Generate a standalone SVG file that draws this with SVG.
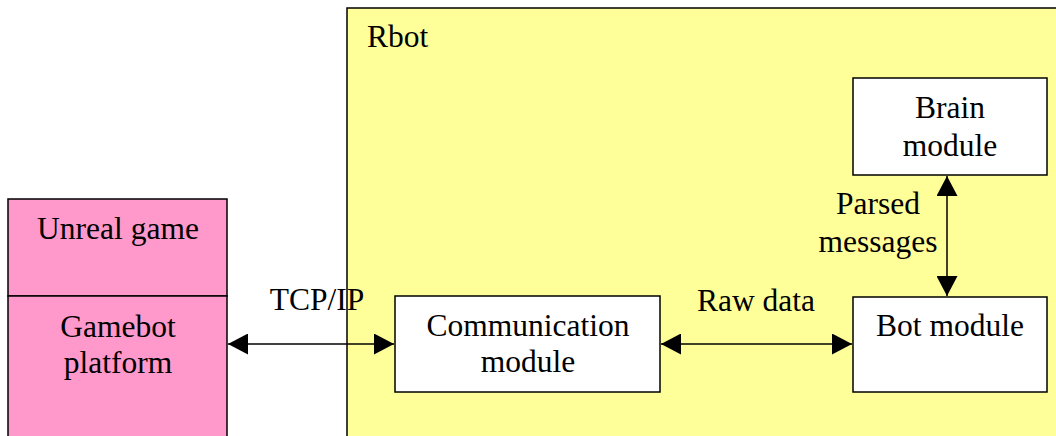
<svg xmlns="http://www.w3.org/2000/svg" width="1056" height="436" viewBox="0 0 1056 436">
  <style>
    .lbl { font-family: "Liberation Serif", "Times New Roman", serif; font-size: 31.5px; fill: #000; }
    .mid { text-anchor: middle; }
    .box { fill: #fff; stroke: #000; stroke-width: 1.5; }
    .host { fill: #ff99cc; stroke: #000; stroke-width: 1.5; }
    .link { stroke: #000; stroke-width: 1.5; fill: none; marker-start: url(#head); marker-end: url(#head); }
  </style>
  <defs>
    <marker id="head" viewBox="0 0 20 21" refX="20" refY="10.5" markerWidth="20" markerHeight="21" markerUnits="userSpaceOnUse" orient="auto-start-reverse">
      <path d="M0,0 L20,10.5 L0,21 Z" fill="#000"/>
    </marker>
  </defs>

  <rect width="1056" height="436" fill="#fff"/>

  <!-- Rbot container -->
  <g id="rbot">
    <rect x="347" y="8" width="720" height="440" fill="#ffff99" stroke="#000" stroke-width="1.5"/>
    <text class="lbl" x="367" y="47">Rbot</text>
  </g>

  <!-- Game side -->
  <g id="unreal-game">
    <rect class="host" x="8" y="199" width="219" height="97"/>
    <text class="lbl mid" x="118" y="239">Unreal game</text>
  </g>
  <g id="gamebot-platform">
    <rect class="host" x="8" y="296" width="219" height="150"/>
    <text class="lbl mid" x="118" y="337">Gamebot</text>
    <text class="lbl mid" x="118" y="373">platform</text>
  </g>

  <!-- Rbot modules -->
  <g id="communication-module">
    <rect class="box" x="395" y="296" width="265" height="96"/>
    <text class="lbl mid" x="528" y="336">Communication</text>
    <text class="lbl mid" x="528" y="372">module</text>
  </g>
  <g id="bot-module">
    <rect class="box" x="853" y="297" width="194" height="95"/>
    <text class="lbl mid" x="950" y="336">Bot module</text>
  </g>
  <g id="brain-module">
    <rect class="box" x="853" y="78" width="194" height="97"/>
    <text class="lbl mid" x="950" y="118">Brain</text>
    <text class="lbl mid" x="950" y="156">module</text>
  </g>

  <!-- Connectors -->
  <g id="connectors">
    <line class="link" x1="228" y1="344" x2="394" y2="344"/>
    <line class="link" x1="661" y1="344" x2="852" y2="344"/>
    <line class="link" x1="947" y1="176" x2="947" y2="296"/>
    <text class="lbl mid" x="317" y="310">TCP/IP</text>
    <text class="lbl mid" x="756" y="311">Raw data</text>
    <text class="lbl mid" x="878" y="214">Parsed</text>
    <text class="lbl mid" x="878" y="252">messages</text>
  </g>
</svg>
